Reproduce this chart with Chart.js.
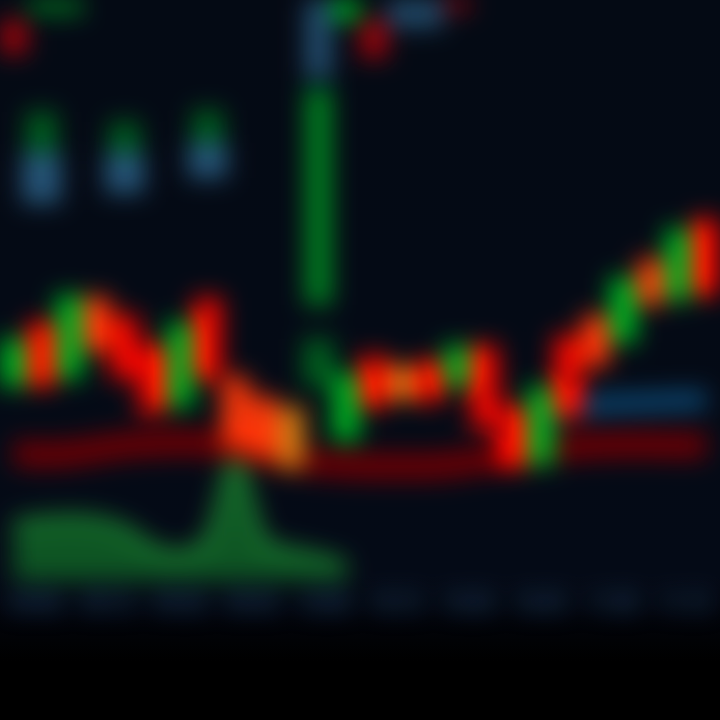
<!DOCTYPE html>
<html>
<head>
<meta charset="utf-8">
<script src="https://cdn.jsdelivr.net/npm/chart.js@4/dist/chart.umd.min.js"></script>
<style>
  html, body { margin: 0; padding: 0; background: #000; }
  #wrap {
    width: 720px; height: 720px; overflow: hidden;
    background: linear-gradient(to bottom, #050a14 0%, #050a16 80%, #02040a 86%, #000 92%);
  }
  #chart { filter: blur(12px) saturate(1.25); }
</style>
</head>
<body>
<div id="wrap"><canvas id="chart" width="720" height="720"></canvas></div>
<script>
// time slots (one candle each)
const slots = ["09:00","09:05","09:10","09:15","09:20","09:25","09:30","09:35","09:40","09:45",
  "09:50","09:55","10:00","10:05","10:10","10:15","10:20","10:25","10:30","10:35",
  "10:40","10:45","10:50","10:55","11:00","11:05"];
const tickLabels = ["09:00","09:15","09:30","09:45","10:00","10:15","10:30","10:45","11:00","11:15"];

// candle bodies
const bodyLow  = [33.3,33.3,34.6,39.5,34.7,28.9,29.8,34.6,22.8,21.1,19.3,47.4,24.0,29.8,31.1,30.7,33.3,26.3,19.3,19.8,28.1,36.8,40.9,47.4,48.2,49.1];
const bodyHigh = [41.6,44.4,49.1,48.8,45.6,40.4,44.4,48.6,35.1,31.6,29.8,84.7,35.6,38.6,36.8,37.7,40.4,40.4,29.8,33.3,42.1,45.6,52.1,55.3,60.5,62.3];
const bodyKind = ["up","down","up","mix","down","down","up","down","mix","mix","flat","tall","up","down","flat","down","up","down","down","up","down","mix","up","mix","up","down"];

// pieces near the top edge
const topLow  = [90.7,97.7,97.7,null,null,null,null,null,null,null,null,86.5,96.5,90.0,95.3,95.3,98.2,null,null,null,null,null,null,null,null,null];
const topHigh = [96.5,100,100,null,null,null,null,null,null,null,null,100,100,96.5,100,100,100,null,null,null,null,null,null,null,null,null];
const topKind = ["dim","tall","tall","","","","","","","","","pale","up","dim","pale","pale","dim","","","","","","","","",""];

// small markers in the upper left
const markLow  = [null,64.9,null,null,66.7,null,null,69.3,null,null,null,null,null,null,null,null,null,null,null,null,null,null,null,null,null,null];
const markHigh = [null,73.7,null,null,73.7,null,null,75.4,null,null,null,null,null,null,null,null,null,null,null,null,null,null,null,null,null,null];
const capLow  = [null,73.7,null,null,73.7,null,null,75.4,null,null,null,33.3,null,null,null,null,null,null,null,null,null,null,null,null,null,null];
const capHigh = [null,80.7,null,null,79.0,null,null,81.0,null,null,null,41.6,null,null,null,null,null,null,null,null,null,null,null,null,null,null];

// indicator lines
const maLine = [21.9,21.6,21.8,22.5,23.2,23.5,23.7,23.5,22.8,21.8,20.7,20.2,19.8,19.6,19.6,19.6,20.0,20.7,21.4,22.1,22.8,23.2,23.3,23.3,23.2,23.2];
const blueLine = [null,null,null,null,null,null,null,null,null,null,null,null,null,null,null,null,null,null,null,28.1,29.5,30.2,30.5,30.7,30.9,31.1];
const volume = [9.6,10.2,10.5,10.2,8.8,5.6,4.4,7.0,21.1,6.7,4.9,3.9,2.5,null,null,null,null,null,null,null,null,null,null,null,null,null];

const kindColors = {
  up: "#12b036", down: "#ff1208", mix: "#e8401a", flat: "#c8802a",
  tall: "#0a7a2c", dim: "#8a0a10", pale: "#2a4c66", "": "transparent"
};

function pairs(lo, hi) {
  return lo.map((v, i) => (v == null ? null : [v, hi[i]]));
}

const barBase = { grouped: false, barPercentage: 0.95, categoryPercentage: 1, borderWidth: 0 };

new Chart(document.getElementById("chart"), {
  type: "bar",
  data: {
    labels: slots,
    datasets: [
      Object.assign({}, barBase, {
        label: "candles", order: 1,
        data: pairs(bodyLow, bodyHigh),
        backgroundColor: bodyKind.map((k) => kindColors[k]),
      }),
      Object.assign({}, barBase, {
        label: "top", order: 1,
        data: pairs(topLow, topHigh),
        backgroundColor: topKind.map((k) => kindColors[k]),
      }),
      Object.assign({}, barBase, {
        label: "marks", order: 1, barPercentage: 1.4,
        data: pairs(markLow, markHigh),
        backgroundColor: "#2e5470",
      }),
      Object.assign({}, barBase, {
        label: "caps", order: 1, barPercentage: 1.1,
        data: pairs(capLow, capHigh),
        backgroundColor: "#0b5a26",
      }),
      {
        type: "line", label: "MA", order: 5,
        data: maLine, borderColor: "#5c0408", borderWidth: 26,
        pointRadius: 0, tension: 0.4,
      },
      {
        type: "line", label: "signal", order: 5,
        data: blueLine, borderColor: "#17486c", borderWidth: 18,
        pointRadius: 0, tension: 0.4,
      },
      {
        type: "line", label: "volume", order: 6,
        data: volume, borderColor: "#3aa84c", borderWidth: 6,
        backgroundColor: "rgba(40,140,60,0.55)", fill: "origin",
        pointRadius: 0, tension: 0.3,
      },
    ],
  },
  options: {
    responsive: false,
    devicePixelRatio: 1,
    animation: false,
    layout: { padding: { bottom: 100, left: 0, right: 0, top: 0 } },
    plugins: { legend: { display: false }, tooltip: { enabled: false } },
    scales: {
      x: {
        offset: true,
        ticks: { display: false },
        grid: { color: "rgba(40,60,90,0.25)", drawTicks: false },
        border: { display: false },
      },
      x2: {
        type: "category",
        labels: tickLabels,
        position: "bottom",
        offset: true,
        grid: { display: false },
        border: { display: false },
        ticks: { color: "#2f5478", font: { family: "Roboto", size: 20, weight: "bold" }, padding: 4 },
      },
      y: { display: false, min: 0, max: 100 },
    },
  },
});
</script>
</body>
</html>
